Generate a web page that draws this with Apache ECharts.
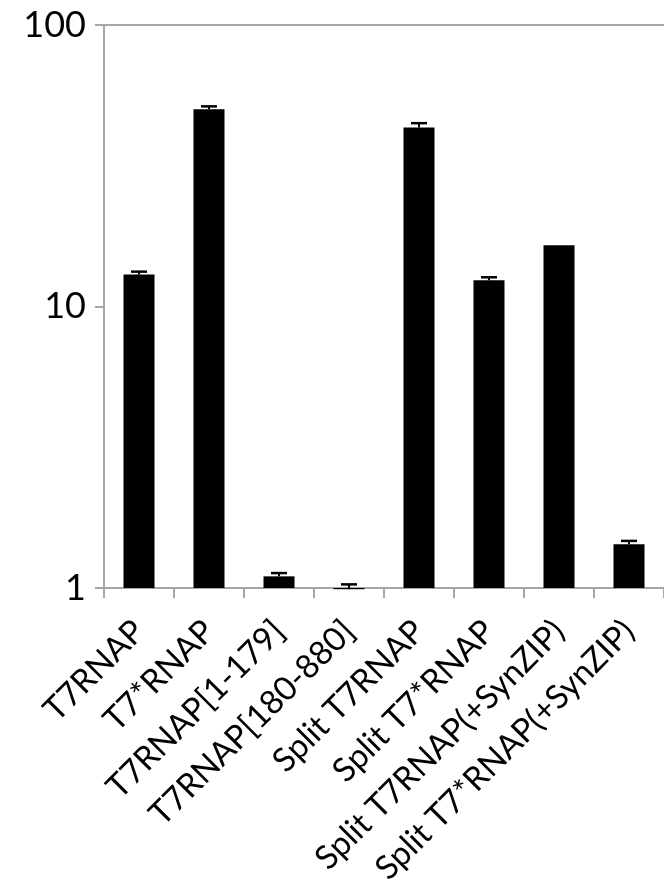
<!DOCTYPE html>
<html>
<head>
<meta charset="utf-8">
<script src="https://cdn.jsdelivr.net/npm/echarts@6/dist/echarts.min.js"></script>
<style>html,body{margin:0;padding:0;background:#fff;}#c{width:664px;height:896px;}</style>
</head>
<body>
<div id="c"></div>
<script>
const categories = ['T7RNAP', 'T7*RNAP', 'T7RNAP[1-179]', 'T7RNAP[180-880]', 'Split T7RNAP', 'Split T7*RNAP', 'Split T7RNAP(+SynZIP)', 'Split T7*RNAP(+SynZIP)'];
const values = [13.0, 50.2, 1.10, 0.99, 43.2, 12.4, 16.5, 1.43];
const errorHigh = [13.3, 51.4, 1.13, 1.03, 44.8, 12.7, 16.5, 1.47];
const yTicks = [1, 10, 100];

const chart = echarts.init(document.getElementById('c'), null, {renderer: 'canvas'});
const axisGray = '#a6a6a6';
const font = 'Lato, "Open Sans", sans-serif';

chart.setOption({
  animation: false,
  grid: {left: 104, top: 25, width: 565, height: 563},
  xAxis: [{
    type: 'category',
    data: categories,
    axisLine: {lineStyle: {color: axisGray, width: 2}},
    axisTick: {show: true, length: 10, alignWithLabel: false, lineStyle: {color: axisGray, width: 2}},
    axisLabel: {rotate: 45, interval: 0, margin: 38, color: '#000', fontSize: 33, fontFamily: font}
  }, {
    type: 'category',
    position: 'top',
    data: categories,
    axisLine: {lineStyle: {color: axisGray, width: 2}},
    axisTick: {show: false},
    axisLabel: {show: false}
  }],
  yAxis: {
    type: 'log',
    logBase: 10,
    min: 1,
    max: 100,
    splitLine: {show: false},
    axisLine: {show: true, lineStyle: {color: axisGray, width: 2}},
    axisTick: {show: true, length: 9, lineStyle: {color: axisGray, width: 2}},
    axisLabel: {
      margin: 18, color: '#000', fontSize: 36, fontFamily: font,
      formatter: v => (yTicks.indexOf(Math.round(v)) >= 0 ? String(Math.round(v)) : '')
    }
  },
  series: [{
    type: 'bar',
    data: values,
    barWidth: 31,
    clip: false,
    itemStyle: {color: '#000'}
  }, {
    type: 'custom',
    data: values.map((v, i) => [i, v, errorHigh[i]]),
    z: 5,
    clip: false,
    renderItem: function (params, api) {
      const i = api.value(0);
      if (api.value(2) <= api.value(1)) return {type: 'group', children: []};
      const base = api.coord([i, api.value(1)]);
      const top = api.coord([i, api.value(2)]);
      const hw = 8;
      return {
        type: 'group',
        children: [
          {type: 'line', shape: {x1: base[0], y1: base[1], x2: top[0], y2: top[1]}, style: {stroke: '#000', lineWidth: 2}},
          {type: 'line', shape: {x1: top[0] - hw, y1: top[1], x2: top[0] + hw, y2: top[1]}, style: {stroke: '#000', lineWidth: 2.5}}
        ]
      };
    }
  }]
});
</script>
</body>
</html>
